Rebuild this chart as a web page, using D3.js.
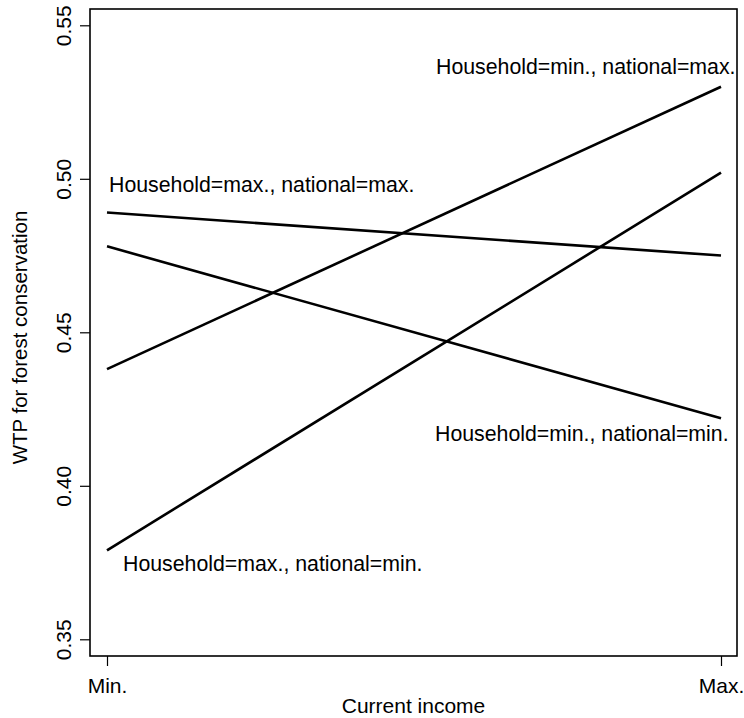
<!DOCTYPE html>
<html>
<head>
<meta charset="utf-8">
<script src="https://cdn.jsdelivr.net/npm/d3@7"></script>
<style>
  html, body { margin: 0; padding: 0; background: #fff; }
  svg { display: block; }
  text { font-family: "Liberation Sans", Arial, sans-serif; fill: #000; }
</style>
</head>
<body>
<svg id="chart" width="744" height="718"></svg>
<script>
// Income levels on the x axis
const incomeLevels = ["Min.", "Max."];

// Predicted WTP at minimum and maximum current income, one line per scenario
const scenarioNames = [
  "Household=min., national=max.",
  "Household=max., national=min.",
  "Household=max., national=max.",
  "Household=min., national=min."
];
const wtpAtMin = [0.438, 0.379, 0.489, 0.478];
const wtpAtMax = [0.530, 0.502, 0.475, 0.422];

// Y axis ticks
const yTicks = [0.35, 0.40, 0.45, 0.50, 0.55];
const yTickLabels = ["0.35", "0.40", "0.45", "0.50", "0.55"];

const svg = d3.select("#chart");

// Plot region frame
const frame = { left: 90, right: 737, top: 9, bottom: 656 };

const x = d3.scalePoint().domain(incomeLevels).range([107, 721]);
const y = d3.scaleLinear().domain([0.35, 0.55]).range([639.3, 25.3]);

// Frame
svg.append("rect")
  .attr("x", frame.left).attr("y", frame.top)
  .attr("width", frame.right - frame.left)
  .attr("height", frame.bottom - frame.top)
  .attr("fill", "none").attr("stroke", "#000").attr("stroke-width", 1.6);

// Y axis
const yAxis = d3.axisLeft(y)
  .tickValues(yTicks)
  .tickSize(10)
  .tickFormat((d, i) => yTickLabels[i]);
const gy = svg.append("g").attr("transform", `translate(${frame.left},0)`).call(yAxis);
gy.select(".domain").remove();
gy.selectAll(".tick line").attr("stroke", "#000").attr("stroke-width", 1.2);
gy.selectAll(".tick text")
  .attr("x", null).attr("dy", null)
  .attr("transform", "translate(-19,0) rotate(-90)")
  .attr("text-anchor", "middle")
  .style("font-size", "21px");

// X axis
const xAxis = d3.axisBottom(x).tickSize(10);
const gx = svg.append("g").attr("transform", `translate(0,${frame.bottom})`).call(xAxis);
gx.select(".domain").remove();
gx.selectAll(".tick line").attr("stroke", "#000").attr("stroke-width", 1.2);
gx.selectAll(".tick text")
  .attr("y", 37).attr("dy", null)
  .style("font-size", "21px");

// Axis titles
svg.append("text")
  .attr("x", (frame.left + frame.right) / 2)
  .attr("y", 713)
  .attr("text-anchor", "middle")
  .style("font-size", "21px")
  .text("Current income");

svg.append("text")
  .attr("transform", `translate(27,${(frame.top + frame.bottom) / 2 + 5}) rotate(-90)`)
  .attr("text-anchor", "middle")
  .style("font-size", "20.5px")
  .text("WTP for forest conservation");

// Scenario lines
const series = scenarioNames.map((name, i) => ({
  name,
  values: [
    { level: incomeLevels[0], wtp: wtpAtMin[i] },
    { level: incomeLevels[1], wtp: wtpAtMax[i] }
  ]
}));

const line = d3.line().x(d => x(d.level)).y(d => y(d.wtp));

svg.append("g").selectAll("path")
  .data(series)
  .join("path")
  .attr("d", d => line(d.values))
  .attr("fill", "none")
  .attr("stroke", "#000")
  .attr("stroke-width", 2.6);

// Scenario labels placed beside their lines
const labelSpots = [
  { x: 436, y: 74 },
  { x: 123, y: 571 },
  { x: 109, y: 192 },
  { x: 435, y: 441 }
];
svg.append("g").selectAll("text")
  .data(series)
  .join("text")
  .attr("x", (d, i) => labelSpots[i].x)
  .attr("y", (d, i) => labelSpots[i].y)
  .style("font-size", "21.3px")
  .text(d => d.name);
</script>
</body>
</html>
